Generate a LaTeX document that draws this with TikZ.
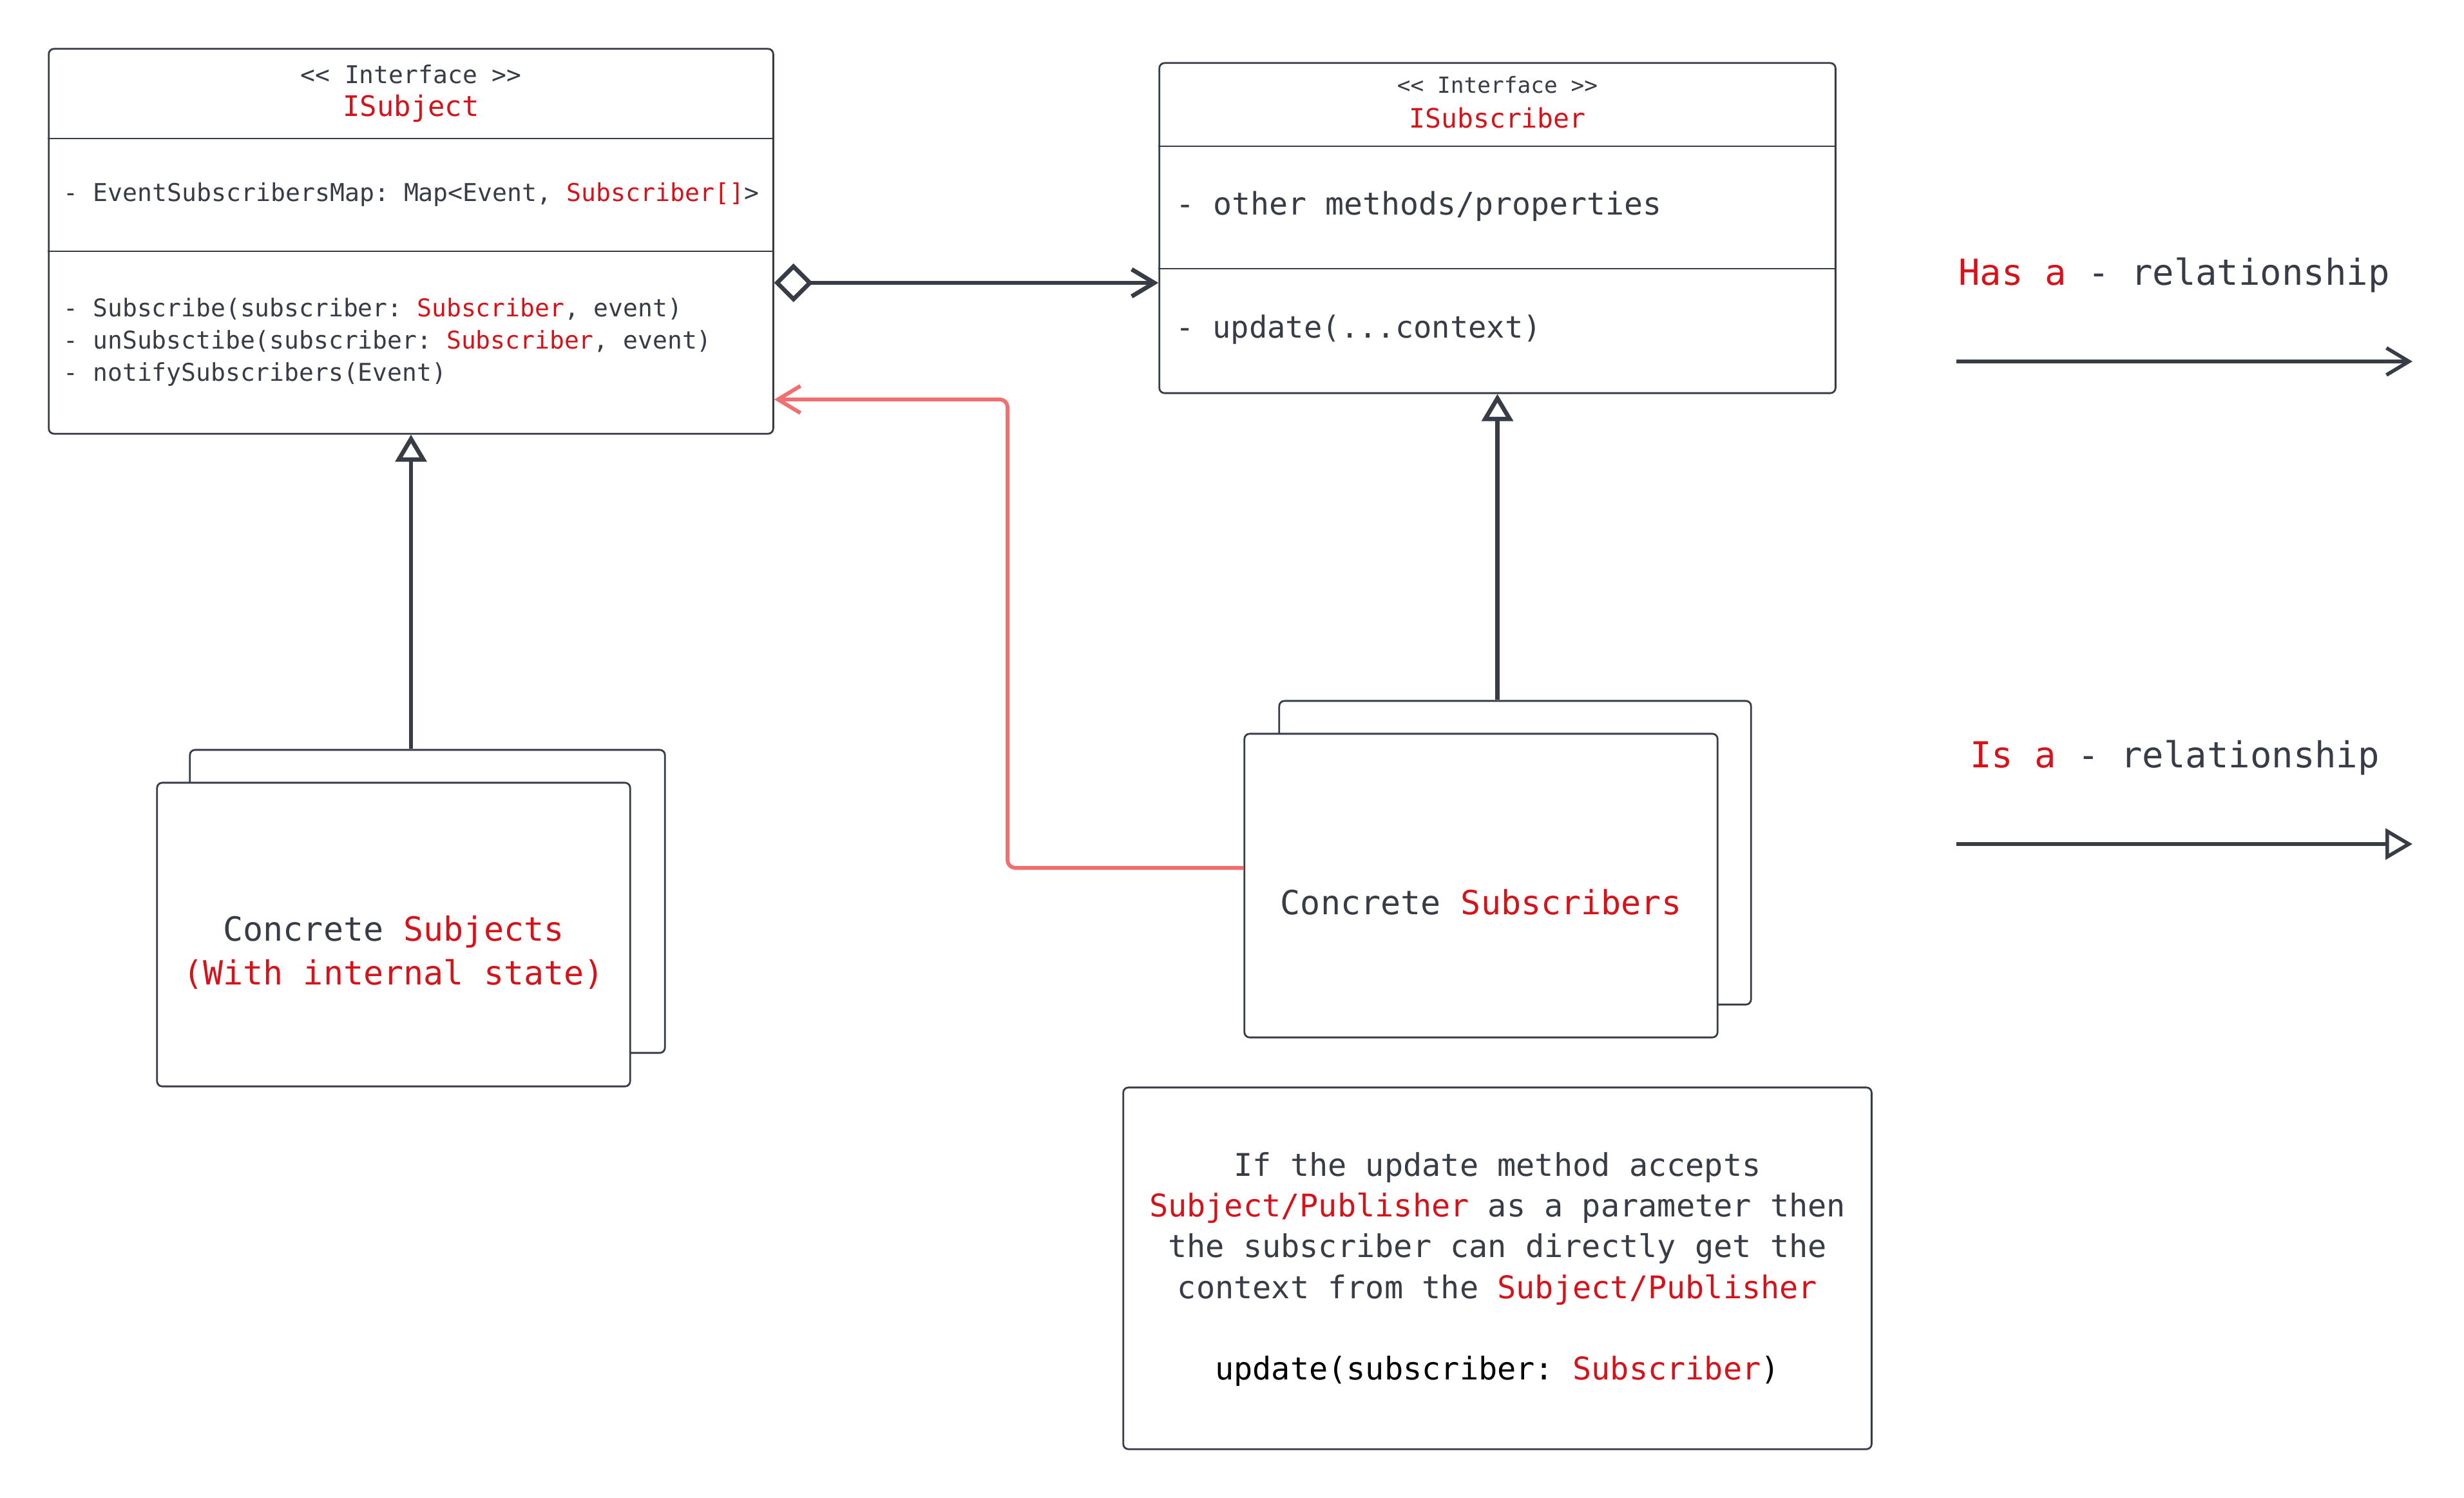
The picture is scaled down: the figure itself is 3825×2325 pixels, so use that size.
\documentclass[tikz,border=0pt]{standalone}
\usepackage{fontspec}
\setmonofont{DejaVu Sans Mono}
\usetikzlibrary{arrows.meta}
\definecolor{ink}{RGB}{55,60,70}
\definecolor{hl}{RGB}{212,20,26}
\definecolor{lnk}{RGB}{240,112,112}
\newcommand{\hi}[1]{\textcolor{hl}{#1}}
\newcommand{\fsz}[2]{\fontsize{#1}{#2}\selectfont}
\begin{document}
\begin{tikzpicture}[x=0.01cm,y=-0.01cm,
  box/.style={draw=ink, line width=0.8pt, rounded corners=0.08cm, inner sep=0pt, fill=white},
  divline/.style={draw=ink, line width=0.8pt},
  txt/.style={inner sep=0pt, text=ink, font=\ttfamily},
  conn/.style={draw=ink, line width=1.9pt},
  legconn/.style={draw=ink, line width=1.6pt},
  barb/.style={-{Straight Barb[length=0.35cm, width=0.42cm]}},
  agg/.style={{Diamond[open, length=0.6cm, width=0.6cm]}-{Straight Barb[length=0.35cm, width=0.42cm]}},
  inh/.style={-{Triangle[open, length=0.42cm, width=0.48cm]}},
  redconn/.style={draw=lnk, line width=1.7pt, rounded corners=0.12cm}]
\useasboundingbox (0,0) rectangle (3825,2325);

% ISubject
\node[box, minimum width=11.24cm, minimum height=5.97cm] (isubj) at (638,374.5) {};
\draw[divline] (isubj.west |- 0,215) -- (isubj.east |- 0,215);
\draw[divline] (isubj.west |- 0,390) -- (isubj.east |- 0,390);
\node[txt, font=\ttfamily\fsz{10.8}{13}] (isubjst) at (638,115) {<< Interface >>};
\node[txt, text=hl, font=\ttfamily\fsz{12.5}{15}] (isubjname) at (638,168) {ISubject};
\node[txt, anchor=west, font=\ttfamily\fsz{10.85}{13}] (isubjattr) at (98,302) {- EventSubscribersMap: Map<Event, \hi{Subscriber[]}>};
\node[txt, anchor=west, align=left, font=\ttfamily\fsz{10.8}{14.2}] (isubjm) at (98,531) {- Subscribe(subscriber: \hi{Subscriber}, event)\\- unSubsctibe(subscriber: \hi{Subscriber}, event)\\- notifySubscribers(Event)};

% ISubscriber
\node[box, minimum width=10.49cm, minimum height=5.12cm] (isubscr) at (2324.5,354) {};
\draw[divline] (isubscr.west |- 0,227) -- (isubscr.east |- 0,227);
\draw[divline, line width=0.5pt] (isubscr.west |- 0,417) -- (isubscr.east |- 0,417);
\node[txt, font=\ttfamily\fsz{9.8}{12}] (isubscrst) at (2324.5,132) {<< Interface >>};
\node[txt, text=hl, font=\ttfamily\fsz{11.8}{14}] (isubscrname) at (2324.5,183) {ISubscriber};
\node[txt, anchor=west, font=\ttfamily\fsz{13.7}{16}] (isubscro) at (1825,320) {- other methods/properties};
\node[txt, anchor=west, font=\ttfamily\fsz{13.4}{16}] (isubscru) at (1825,512) {- update(...context)};

% Concrete Subjects
\node[box, minimum width=7.37cm, minimum height=4.70cm] (subjback) at (663.5,1399) {};
\node[box, minimum width=7.34cm, minimum height=4.71cm] (subjfront) at (611,1450.5) {};
\node[txt, align=center, font=\ttfamily\fsz{14.7}{19.3}] (subjtxt) at (611,1478) {Concrete \hi{Subjects}\\\hi{(With internal state)}};

% Concrete Subscribers
\node[box, minimum width=7.32cm, minimum height=4.71cm] (subsback) at (2352,1323.5) {};
\node[box, minimum width=7.34cm, minimum height=4.71cm] (subsfront) at (2299,1374.5) {};
\node[txt, font=\ttfamily\fsz{14.7}{18}] (substxt) at (2299,1400) {Concrete \hi{Subscribers}};

% Note
\node[box, minimum width=11.61cm, minimum height=5.61cm] (note) at (2324.5,1968.5) {};
\node[txt, align=center, font=\ttfamily\fsz{13.8}{18}] (notetxt) at (2324.5,1970)
  {If the update method accepts\\\hi{Subject/Publisher} as a parameter then\\the subscriber can directly get the\\context from the \hi{Subject/Publisher}\\[18pt]\textcolor{black}{update(subscriber: \hi{Subscriber})}};

% Connectors
\draw[conn, agg] (isubj.east |- 0,439) -- (isubscr.west |- 0,439);
\draw[conn, inh] (subjback.north -| isubj.south) -- (isubj.south);
\draw[conn, inh] (subsback.north -| isubscr.south) -- (isubscr.south);
\draw[redconn, barb] (subsfront.west |- 0,1347) -| (1564,620) -- (isubj.east |- 0,620);

% Legend
\node[txt, font=\ttfamily\fsz{15.8}{19}] (haslbl) at (3375,427) {\hi{Has a} - relationship};
\node[txt, font=\ttfamily\fsz{15.8}{19}] (islbl) at (3376,1176) {\hi{Is a} - relationship};
\coordinate (hasA) at (3037,561);
\coordinate (hasB) at (3745,561);
\coordinate (isA) at (3037,1310);
\coordinate (isB) at (3745,1310);
\draw[legconn, barb] (hasA) -- (hasB);
\draw[legconn, inh] (isA) -- (isB);
\end{tikzpicture}
\end{document}
